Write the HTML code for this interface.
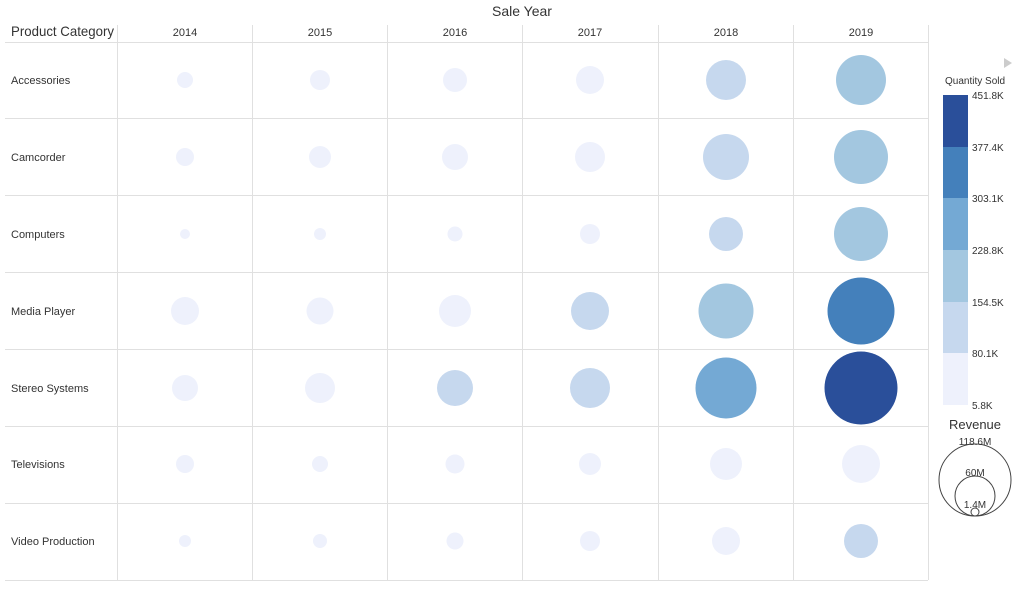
<!DOCTYPE html>
<html><head><meta charset="utf-8"><style>
body{margin:0;background:#fff;}
svg text{font-family:"Liberation Sans",sans-serif;fill:#333;}
</style></head><body>
<svg width="1021" height="588" xmlns="http://www.w3.org/2000/svg">
<text x="522" y="16" font-size="14" text-anchor="middle" fill="#444">Sale Year</text>
<text x="11" y="36" font-size="14" fill="#444" textLength="103" lengthAdjust="spacingAndGlyphs">Product Category</text>
<g font-size="11" text-anchor="middle">
<text x="185" y="36">2014</text><text x="320" y="36">2015</text><text x="455" y="36">2016</text>
<text x="590" y="36">2017</text><text x="726" y="36">2018</text><text x="861" y="36">2019</text>
</g>
<g stroke="#e0e0e0" stroke-width="1">
<line x1="5" y1="42.5" x2="928" y2="42.5"/>
<line x1="5" y1="118.5" x2="928" y2="118.5"/><line x1="5" y1="195.5" x2="928" y2="195.5"/>
<line x1="5" y1="272.5" x2="928" y2="272.5"/><line x1="5" y1="349.5" x2="928" y2="349.5"/>
<line x1="5" y1="426.5" x2="928" y2="426.5"/><line x1="5" y1="503.5" x2="928" y2="503.5"/>
<line x1="5" y1="580.5" x2="928" y2="580.5"/>
<line x1="117.5" y1="25" x2="117.5" y2="580"/><line x1="252.5" y1="25" x2="252.5" y2="580"/>
<line x1="387.5" y1="25" x2="387.5" y2="580"/><line x1="522.5" y1="25" x2="522.5" y2="580"/>
<line x1="658.5" y1="25" x2="658.5" y2="580"/><line x1="793.5" y1="25" x2="793.5" y2="580"/>
<line x1="928.5" y1="25" x2="928.5" y2="580"/>
</g>
<g font-size="11">
<text x="11" y="84">Accessories</text><text x="11" y="161">Camcorder</text>
<text x="11" y="238">Computers</text><text x="11" y="315">Media Player</text>
<text x="11" y="392">Stereo Systems</text><text x="11" y="468">Televisions</text>
<text x="11" y="545">Video Production</text>
</g>
<g>
<circle cx="185" cy="80" r="8" fill="#eef1fc"/><circle cx="320" cy="80" r="10" fill="#eef1fc"/>
<circle cx="455" cy="80" r="12" fill="#eef1fc"/><circle cx="590" cy="80" r="14" fill="#eef1fc"/>
<circle cx="726" cy="80" r="20" fill="#c6d8ee"/><circle cx="861" cy="80" r="25" fill="#a3c7e0"/>
<circle cx="185" cy="157" r="9" fill="#eef1fc"/><circle cx="320" cy="157" r="11" fill="#eef1fc"/>
<circle cx="455" cy="157" r="13" fill="#eef1fc"/><circle cx="590" cy="157" r="15" fill="#eef1fc"/>
<circle cx="726" cy="157" r="23" fill="#c6d8ee"/><circle cx="861" cy="157" r="27" fill="#a3c7e0"/>
<circle cx="185" cy="234" r="5" fill="#eef1fc"/><circle cx="320" cy="234" r="6" fill="#eef1fc"/>
<circle cx="455" cy="234" r="7.5" fill="#eef1fc"/><circle cx="590" cy="234" r="10" fill="#eef1fc"/>
<circle cx="726" cy="234" r="17" fill="#c6d8ee"/><circle cx="861" cy="234" r="27" fill="#a3c7e0"/>
<circle cx="185" cy="311" r="14" fill="#eef1fc"/><circle cx="320" cy="311" r="13.5" fill="#eef1fc"/>
<circle cx="455" cy="311" r="16" fill="#eef1fc"/><circle cx="590" cy="311" r="19" fill="#c6d8ee"/>
<circle cx="726" cy="311" r="27.5" fill="#a3c7e0"/><circle cx="861" cy="311" r="33.5" fill="#4480bb"/>
<circle cx="185" cy="388" r="13" fill="#eef1fc"/><circle cx="320" cy="388" r="15" fill="#eef1fc"/>
<circle cx="455" cy="388" r="18" fill="#c6d8ee"/><circle cx="590" cy="388" r="20" fill="#c6d8ee"/>
<circle cx="726" cy="388" r="30.5" fill="#74a9d4"/><circle cx="861" cy="388" r="36.5" fill="#2a4f9a"/>
<circle cx="185" cy="464" r="9" fill="#eef1fc"/><circle cx="320" cy="464" r="8" fill="#eef1fc"/>
<circle cx="455" cy="464" r="9.5" fill="#eef1fc"/><circle cx="590" cy="464" r="11" fill="#eef1fc"/>
<circle cx="726" cy="464" r="16" fill="#eef1fc"/><circle cx="861" cy="464" r="19" fill="#eef1fc"/>
<circle cx="185" cy="541" r="6" fill="#eef1fc"/><circle cx="320" cy="541" r="7" fill="#eef1fc"/>
<circle cx="455" cy="541" r="8.5" fill="#eef1fc"/><circle cx="590" cy="541" r="10" fill="#eef1fc"/>
<circle cx="726" cy="541" r="14" fill="#eef1fc"/><circle cx="861" cy="541" r="17" fill="#c6d8ee"/>
</g>
<polygon points="1004,58 1012,63 1004,68" fill="#ccc"/>
<text x="945" y="84" font-size="10" fill="#222">Quantity Sold</text>
<rect x="943" y="95" width="25" height="52" fill="#2a4f9a"/>
<rect x="943" y="147" width="25" height="51" fill="#4480bb"/>
<rect x="943" y="198" width="25" height="52" fill="#74a9d4"/>
<rect x="943" y="250" width="25" height="52" fill="#a3c7e0"/>
<rect x="943" y="302" width="25" height="51" fill="#c6d8ee"/>
<rect x="943" y="353" width="25" height="52" fill="#eef1fc"/>
<g font-size="10" fill="#333">
<text x="972" y="99">451.8K</text><text x="972" y="151">377.4K</text><text x="972" y="202">303.1K</text>
<text x="972" y="254">228.8K</text><text x="972" y="306">154.5K</text><text x="972" y="357">80.1K</text>
<text x="972" y="409">5.8K</text>
</g>
<text x="975" y="429" font-size="13" text-anchor="middle" fill="#444">Revenue</text>
<g fill="none" stroke="#444" stroke-width="1">
<circle cx="975" cy="480" r="36"/><circle cx="975" cy="496" r="20"/><circle cx="975" cy="512" r="4"/>
</g>
<g font-size="10" text-anchor="middle" fill="#444">
<text x="975" y="445">118.6M</text><text x="975" y="476">60M</text><text x="975" y="508">1.4M</text>
</g>
</svg>
</body></html>
